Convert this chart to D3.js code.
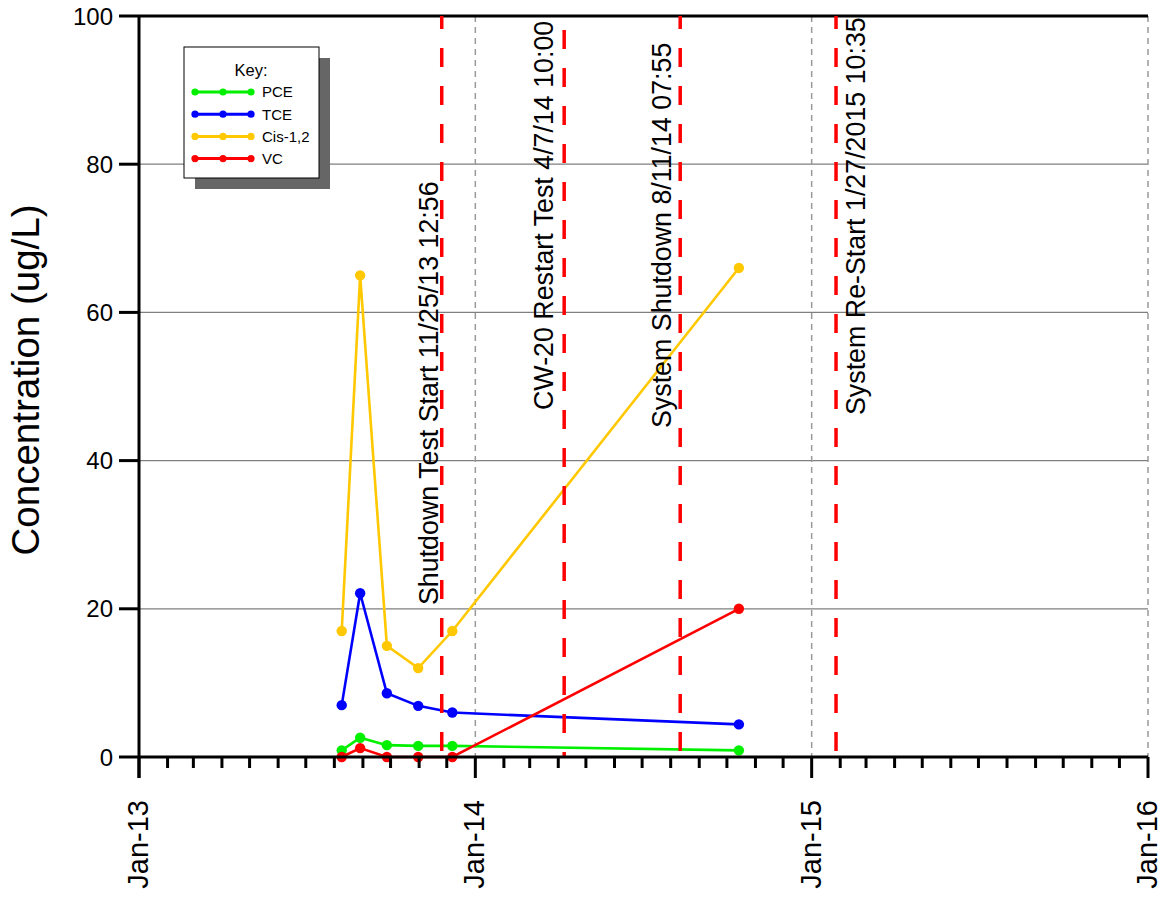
<!DOCTYPE html>
<html><head><meta charset="utf-8">
<script src="https://cdn.jsdelivr.net/npm/d3@7"></script>
<style>body{margin:0;background:#fff}svg{display:block}text{font-family:"Liberation Sans",Arial,sans-serif}</style>
</head><body><svg id="c" width="1163" height="900"></svg>
<script>
const sampleDates = ["2013-08-09","2013-08-29","2013-09-27","2013-10-31","2013-12-07","2014-10-14"];
const seriesNames = ["PCE","TCE","Cis-1,2","VC"];
const seriesColors = ["#00f000","#0000ff","#ffc800","#ff0000"];
const pce = [0.9, 2.6, 1.6, 1.5, 1.5, 0.9];
const tce = [7.0, 22.1, 8.6, 6.9, 6.0, 4.4];
const cis = [17.0, 65.0, 15.0, 12.0, 17.0, 66.0];
const vc  = [0.0, 1.2, 0.0, 0.0, 0.0, 20.0];
const yTicks = [0, 20, 40, 60, 80, 100];
const xTickDates = ["2013-01-01","2014-01-01","2015-01-01","2016-01-01"];
const xTickLabels = ["Jan-13","Jan-14","Jan-15","Jan-16"];
const eventDates = ["2013-11-25T12:56","2014-04-07T10:00","2014-08-11T07:55","2015-01-27T10:35"];
const eventLabels = ["Shutdown Test Start 11/25/13 12:56","CW-20 Restart Test 4/7/14 10:00","System Shutdown 8/11/14 07:55","System Re-Start 1/27/2015 10:35"];
const yTitle = "Concentration (ug/L)";
const legendTitle = "Key:";

const svg = d3.select("#c");
const m = {l:139, r:15, t:16, b:143};
const W = 1163, H = 900;
const parse = s => new Date(s);
const x = d3.scaleTime().domain([parse("2013-01-01"), parse("2016-01-01")]).range([m.l, W - m.r]);
const y = d3.scaleLinear().domain([0, 100]).range([H - m.b, m.t]);
const values = [pce, tce, cis, vc];

// gridlines
svg.append("g").selectAll("line").data(yTicks.filter(v => v > 0 && v < 100)).join("line")
  .attr("x1", m.l).attr("x2", W - m.r).attr("y1", d => y(d)).attr("y2", d => y(d))
  .attr("stroke", "#7f7f7f").attr("stroke-width", 1.2);

// gray dashed year lines
svg.append("g").selectAll("line").data(xTickDates.slice(1)).join("line")
  .attr("x1", d => x(parse(d))).attr("x2", d => x(parse(d)))
  .attr("y1", y(100)).attr("y2", y(0))
  .attr("stroke", "#999").attr("stroke-width", 1.5).attr("stroke-dasharray", "6,5");

// top border
svg.append("line").attr("x1", m.l).attr("x2", W - m.r).attr("y1", y(100)).attr("y2", y(100))
  .attr("stroke", "#000").attr("stroke-width", 3);

// series
const line = d3.line().x((d, i) => x(parse(sampleDates[i]))).y(d => y(d));
values.forEach((vals, k) => {
  const g = svg.append("g");
  g.append("path").attr("d", line(vals)).attr("fill", "none")
    .attr("stroke", seriesColors[k]).attr("stroke-width", 2.6);
  g.selectAll("circle").data(vals).join("circle")
    .attr("cx", (d, i) => x(parse(sampleDates[i]))).attr("cy", d => y(d)).attr("r", 5.2)
    .attr("fill", seriesColors[k]);
});

// red dashed event lines
const dashOffsets = [6, 24, 6, 6];
svg.append("g").selectAll("line").data(eventDates).join("line")
  .attr("x1", d => x(parse(d))).attr("x2", d => x(parse(d)))
  .attr("y1", y(100)).attr("y2", y(0))
  .attr("stroke", "#ff0000").attr("stroke-width", 3.5)
  .attr("stroke-dasharray", "19,19").attr("stroke-dashoffset", (d, i) => dashOffsets[i]);

// event labels
const labelDx = [-4, -11, -9, 29];
const labelY = [605, 410, 428, 415];
svg.append("g").selectAll("text").data(eventLabels).join("text")
  .attr("transform", (d, i) => `translate(${x(parse(eventDates[i])) + labelDx[i]},${labelY[i]}) rotate(-90)`)
  .attr("font-size", 26.8).attr("fill", "#000").text(d => d);

// axes
const yAxis = svg.append("g");
yAxis.append("line").attr("x1", m.l).attr("x2", m.l).attr("y1", y(100)).attr("y2", y(0) + 21)
  .attr("stroke", "#000").attr("stroke-width", 3);
yAxis.selectAll(".yt").data(yTicks).join("line").attr("class", "yt")
  .attr("x1", m.l - 20).attr("x2", m.l).attr("y1", d => y(d)).attr("y2", d => y(d))
  .attr("stroke", "#000").attr("stroke-width", 3);
yAxis.selectAll("text").data(yTicks).join("text")
  .attr("x", m.l - 26).attr("y", d => y(d)).attr("dy", "0.36em")
  .attr("text-anchor", "end").attr("font-size", 24).text(d => d);
svg.append("text").attr("transform", `translate(39,380) rotate(-90)`)
  .attr("text-anchor", "middle").attr("font-size", 38.5).text(yTitle);

const xAxis = svg.append("g");
xAxis.append("line").attr("x1", m.l).attr("x2", W - m.r).attr("y1", y(0)).attr("y2", y(0))
  .attr("stroke", "#000").attr("stroke-width", 3);
const months = d3.timeMonth.range(parse("2013-01-01"), parse("2016-01-02"));
xAxis.selectAll(".mt").data(months).join("line").attr("class", "mt")
  .attr("x1", d => x(d)).attr("x2", d => x(d))
  .attr("y1", y(0)).attr("y2", d => d.getMonth() === 0 ? y(0) + 21 : y(0) + 11)
  .attr("stroke", "#000").attr("stroke-width", 3);
xAxis.selectAll("text").data(xTickDates).join("text")
  .attr("transform", d => `translate(${x(parse(d)) + 9},800) rotate(-90)`)
  .attr("text-anchor", "end").attr("font-size", 29).text((d, i) => xTickLabels[i]);

// legend
const lg = svg.append("g").attr("transform", "translate(184,47)");
lg.append("rect").attr("x", 11).attr("y", 11).attr("width", 135).attr("height", 131).attr("fill", "#666");
lg.append("rect").attr("x", 0).attr("y", 0).attr("width", 135).attr("height", 131)
  .attr("fill", "#fff").attr("stroke", "#000").attr("stroke-width", 1);
lg.append("text").attr("x", 67).attr("y", 29).attr("text-anchor", "middle").attr("font-size", 16.5).text(legendTitle);
seriesNames.forEach((n, k) => {
  const yy = 45 + k * 22.2;
  lg.append("line").attr("x1", 11).attr("x2", 67).attr("y1", yy).attr("y2", yy)
    .attr("stroke", seriesColors[k]).attr("stroke-width", 3);
  [11, 39, 67].forEach(cx => lg.append("circle").attr("cx", cx).attr("cy", yy).attr("r", 3.6).attr("fill", seriesColors[k]));
  lg.append("text").attr("x", 78).attr("y", yy).attr("dy", "0.36em").attr("font-size", 15).text(n);
});
</script></body></html>
